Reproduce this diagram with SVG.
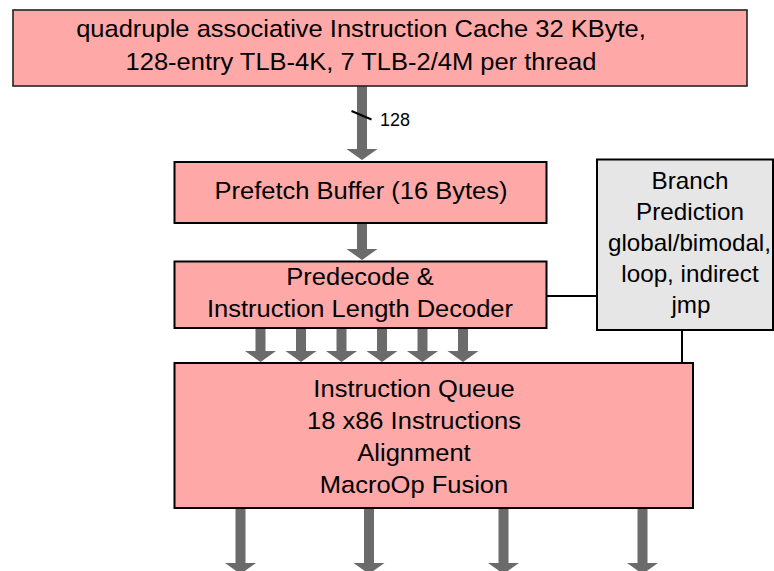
<svg xmlns="http://www.w3.org/2000/svg" width="774" height="571" viewBox="0 0 774 571">
  <defs>
    <style>
      .box { fill: #ffa8a8; stroke: #000; stroke-width: 2; }
      .gray { fill: #e6e6e6; stroke: #000; stroke-width: 2; }
      .lbl { font-family: "Liberation Sans", Arial, sans-serif; font-size: 24px; fill: #000; text-anchor: middle;
             transform-box: fill-box; transform-origin: 50% 50%; transform: scaleX(1.063); }
      #branch .lbl { transform: scaleX(1.01); }
      .small { font-family: "Liberation Sans", Arial, sans-serif; font-size: 18px; fill: #000; }
      .bus { fill: #6b6b6b; stroke: none; }
      .wire { stroke: #000; stroke-width: 2; fill: none; }
    </style>
    <!-- wide data-path arrow: 10px shaft, 31px head; origin at the tail centre -->
    <path id="arrowShort" d="M-5,0 H5 V23 H15.5 L0,34 L-15.5,23 H-5 Z"/>
  </defs>

  <rect width="774" height="571" fill="#fff"/>

  <g id="connectors">
    <!-- cache to prefetch buffer -->
    <path class="bus" d="M357,86 H367 V149 H377.5 L362,160 L346.5,149 H357 Z"/>
    <line class="wire" x1="351.5" y1="111" x2="371.5" y2="119.5"/>
    <text class="small" x="380" y="126">128</text>
    <!-- prefetch buffer to predecode -->
    <path class="bus" d="M357,223 H367 V249 H377.5 L362,260 L346.5,249 H357 Z"/>
    <!-- predecode to instruction queue (6 lanes) -->
    <use href="#arrowShort" class="bus" x="260.5" y="328"/>
    <use href="#arrowShort" class="bus" x="301" y="328"/>
    <use href="#arrowShort" class="bus" x="341.5" y="328"/>
    <use href="#arrowShort" class="bus" x="382" y="328"/>
    <use href="#arrowShort" class="bus" x="422.5" y="328"/>
    <use href="#arrowShort" class="bus" x="463" y="328"/>
    <!-- instruction queue outputs -->
    <path class="bus" d="M235.5,508 H245.5 V563 H256 L240.5,574 L225,563 H235.5 Z"/>
    <path class="bus" d="M364,508 H374 V563 H384.5 L369,574 L353.5,563 H364 Z"/>
    <path class="bus" d="M498.5,508 H508.5 V563 H519 L503.5,574 L488,563 H498.5 Z"/>
    <path class="bus" d="M637.5,508 H647.5 V563 H658 L642.5,574 L627,563 H637.5 Z"/>
    <!-- branch prediction links -->
    <line class="wire" x1="547" y1="296" x2="597" y2="296"/>
    <line class="wire" x1="682" y1="330" x2="682" y2="363"/>
  </g>

  <g id="icache">
    <rect class="box" x="13" y="10" width="734" height="76" style="stroke:#222;stroke-width:1.6"/>
    <text class="lbl" x="361" y="37.5">quadruple associative Instruction Cache 32 KByte,</text>
    <text class="lbl" x="361" y="70">128-entry TLB-4K, 7 TLB-2/4M per thread</text>
  </g>

  <g id="prefetch">
    <rect class="box" x="174.5" y="162" width="372" height="61"/>
    <text class="lbl" x="361" y="199.5">Prefetch Buffer (16 Bytes)</text>
  </g>

  <g id="predecode">
    <rect class="box" x="174.5" y="261.5" width="372" height="66.5"/>
    <text class="lbl" x="360" y="285">Predecode &amp;</text>
    <text class="lbl" x="360" y="317.5">Instruction Length Decoder</text>
  </g>

  <g id="branch">
    <rect class="gray" x="597" y="159.5" width="176" height="170.5"/>
    <text class="lbl" x="690" y="189">Branch</text>
    <text class="lbl" x="690" y="220">Prediction</text>
    <text class="lbl" x="689.5" y="251">global/bimodal,</text>
    <text class="lbl" x="690" y="282">loop, indirect</text>
    <text class="lbl" x="691" y="313">jmp</text>
  </g>

  <g id="queue">
    <rect class="box" x="174.5" y="363" width="518.5" height="145"/>
    <text class="lbl" x="414" y="397">Instruction Queue</text>
    <text class="lbl" x="414" y="429">18 x86 Instructions</text>
    <text class="lbl" x="414" y="461">Alignment</text>
    <text class="lbl" x="414" y="493">MacroOp Fusion</text>
  </g>
</svg>
